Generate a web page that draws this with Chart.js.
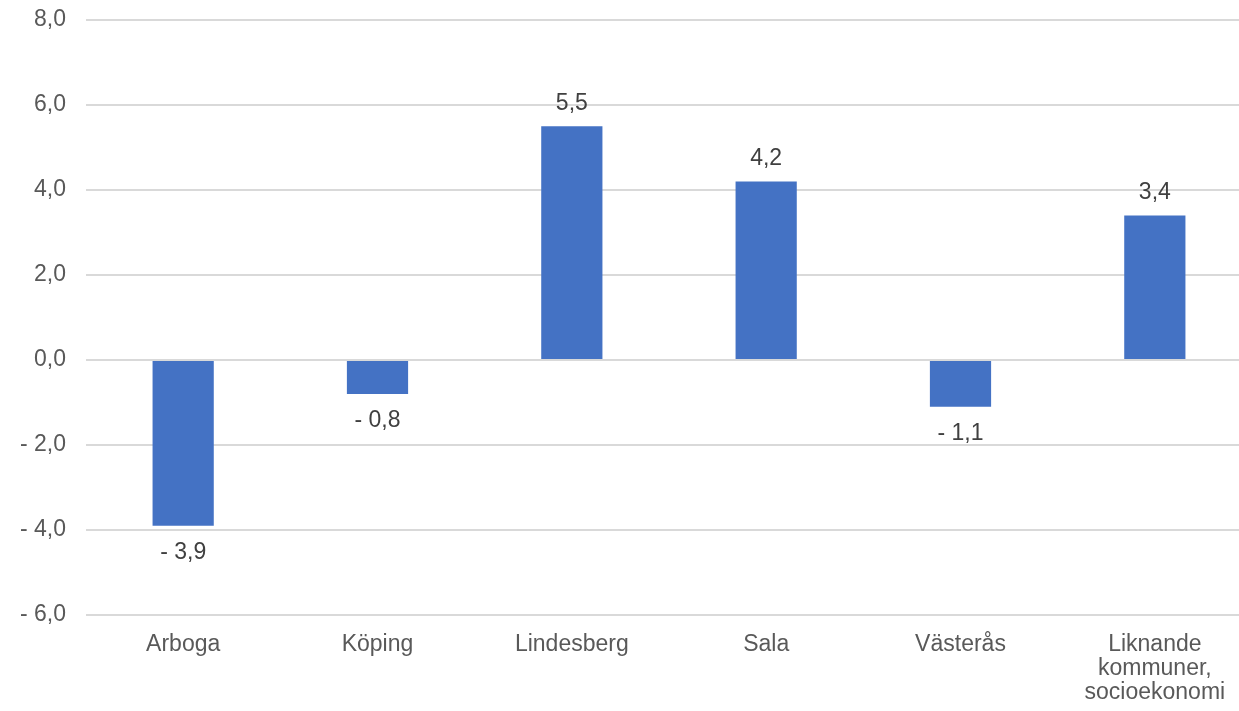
<!DOCTYPE html>
<html lang="sv">
<head>
    <meta charset="UTF-8">
    <title>Förändring per kommun</title>
    <script src="https://cdn.jsdelivr.net/npm/chart.js"></script>
    <style>
        html, body { margin: 0; padding: 0; background: #fff; overflow: hidden; }
        .ruta { position: relative; width: 1252px; height: 711px; }
    </style>
</head>
<body>
    <div class="ruta"><canvas id="diagram"></canvas></div>

    <script>
        // data
        const kommuner = ["Arboga", "Köping", "Lindesberg", "Sala", "Västerås", ["Liknande", "kommuner,", "socioekonomi"]];
        const varden = [-3.9, -0.8, 5.5, 4.2, -1.1, 3.4];
        const yMin = -6, yMax = 8, ySteg = 2;

        const typsnitt = "'Liberation Sans', Arial, sans-serif";

        function formatera(v) {
            const s = Math.abs(v).toFixed(1).replace('.', ',');
            return v < 0 ? '- ' + s : s;
        }

        // egna etiketter ovanför/under staplarna
        const etiketter = {
            id: 'etiketter',
            afterDatasetsDraw(chart) {
                const ctx = chart.ctx;
                const meta = chart.getDatasetMeta(0);
                ctx.save();
                ctx.font = '23px ' + typsnitt;
                ctx.fillStyle = '#404040';
                ctx.textAlign = 'center';
                ctx.textBaseline = 'middle';
                meta.data.forEach((bar, i) => {
                    const v = varden[i];
                    const y = v >= 0 ? bar.y - 23 : bar.y + 27;
                    ctx.fillText(formatera(v), bar.x, y);
                });
                ctx.restore();
            }
        };

        const ctx = document.getElementById('diagram').getContext('2d');
        new Chart(ctx, {
            type: 'bar',
            data: {
                labels: kommuner,
                datasets: [{
                    data: varden,
                    backgroundColor: '#4472C4',
                    barPercentage: 0.315,
                    categoryPercentage: 1
                }]
            },
            options: {
                responsive: true,
                maintainAspectRatio: false,
                animation: false,
                layout: { padding: { top: 20, left: 0, right: 0, bottom: 0 } },
                plugins: { legend: { display: false }, tooltip: { enabled: false } },
                scales: {
                    x: {
                        grid: { display: false },
                        border: { display: false },
                        ticks: {
                            color: '#595959',
                            font: { family: typsnitt, size: 23, lineHeight: 1.04 },
                            padding: 10,
                            maxRotation: 0,
                            autoSkip: false
                        },
                        afterFit(scale) { scale.height = 96; scale.paddingLeft = 0; scale.paddingRight = 0; }
                    },
                    y: {
                        min: yMin,
                        max: yMax,
                        grid: { color: '#d9d9d9', lineWidth: 2, drawTicks: false },
                        border: { display: false },
                        ticks: {
                            stepSize: ySteg,
                            color: '#595959',
                            font: { family: typsnitt, size: 23 },
                            padding: 20,
                            callback: v => formatera(v)
                        },
                        afterFit(scale) { scale.width = 86; scale.paddingTop = 0; scale.paddingBottom = 0; }
                    }
                }
            },
            plugins: [etiketter]
        });
    </script>
</body>
</html>
